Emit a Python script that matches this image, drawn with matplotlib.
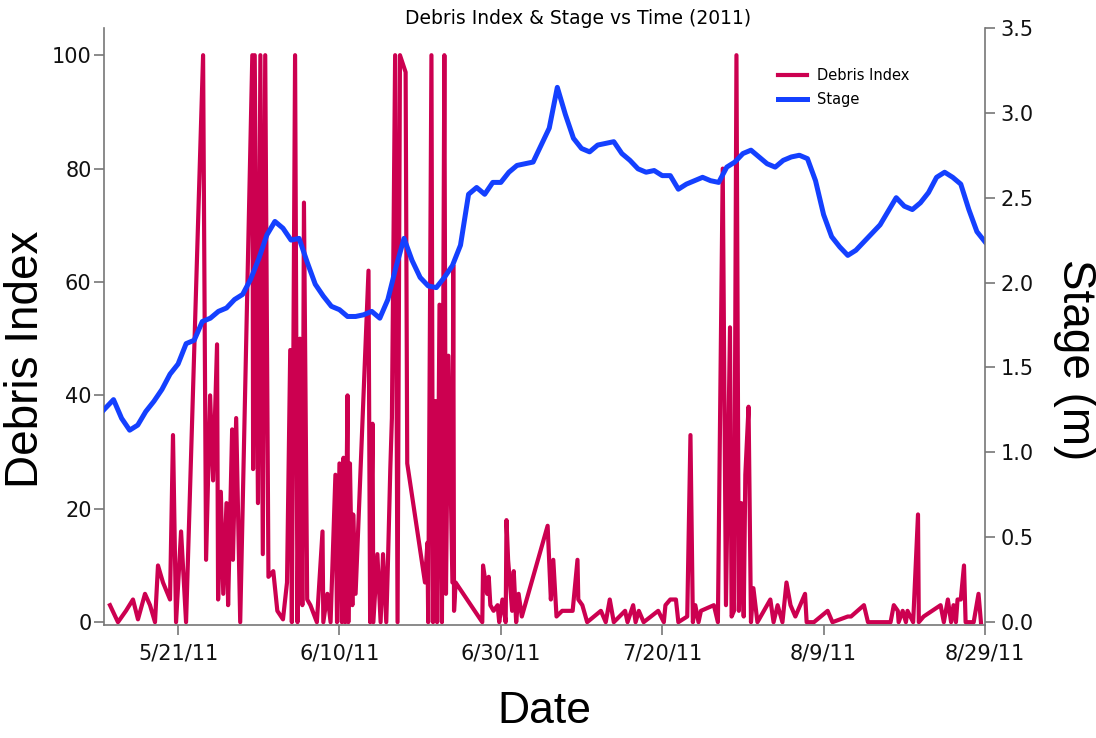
import matplotlib
matplotlib.use("Agg")
import matplotlib.pyplot as plt
import pandas as pd

# days after 5/12/2011
stage_day = [-0.2, 0, 1, 2, 3, 4, 5, 6, 7, 8, 9, 10, 11, 12, 13, 14, 15, 16, 17, 18,
             19, 20, 21, 22, 23, 24, 25, 26, 27, 28, 29, 30, 31, 32, 33, 34, 35, 36, 37, 38,
             39, 40, 41, 42, 43, 44, 45, 46, 47, 48, 49, 50, 51, 52, 53, 54, 55, 56, 57, 58,
             59, 60, 61, 62, 63, 64, 65, 66, 67, 68, 69, 70, 71, 72, 73, 74, 75, 76, 77, 78,
             79, 80, 81, 82, 83, 84, 85, 86, 87, 88, 89, 90, 91, 92, 93, 94, 95, 96, 97, 98,
             99, 100, 101, 102, 103, 104, 105, 106, 107, 108, 109]
stage_m = [1.25, 1.26, 1.31, 1.20, 1.13, 1.16, 1.24, 1.30, 1.37, 1.46, 1.52, 1.64, 1.66, 1.77,
           1.79, 1.83, 1.85, 1.90, 1.93, 2.02, 2.14, 2.28, 2.36, 2.32, 2.25, 2.26, 2.12, 1.99,
           1.92, 1.86, 1.84, 1.80, 1.80, 1.81, 1.83, 1.79, 1.90, 2.09, 2.26, 2.13, 2.03, 1.98,
           1.97, 2.03, 2.10, 2.22, 2.52, 2.56, 2.52, 2.59, 2.59, 2.65, 2.69, 2.70, 2.71, 2.81,
           2.91, 3.15, 2.99, 2.85, 2.79, 2.77, 2.81, 2.82, 2.83, 2.76, 2.72, 2.67, 2.65, 2.66,
           2.63, 2.63, 2.55, 2.58, 2.60, 2.62, 2.60, 2.59, 2.68, 2.71, 2.76, 2.78, 2.74, 2.70,
           2.68, 2.72, 2.74, 2.75, 2.73, 2.60, 2.40, 2.27, 2.21, 2.16, 2.19, 2.24, 2.29, 2.34,
           2.42, 2.50, 2.45, 2.43, 2.47, 2.53, 2.62, 2.65, 2.62, 2.58, 2.43, 2.30, 2.24]

debris_day = [0.56, 1.55, 2.54, 3.41, 4.03, 4.9, 5.52, 6.14, 6.51, 7.13, 8.0, 8.37, 8.75, 9.37,
              9.99, 12.1, 12.47, 12.97, 13.34, 13.83, 13.96, 14.3, 14.6, 15.0, 15.2, 15.7, 15.8,
              16.2, 16.7, 18.2, 18.3, 18.5, 18.9, 19.2, 19.5, 19.8, 20.2, 20.8, 21.3, 22.0, 22.5,
              22.9, 23.1, 23.5, 23.8, 24.1, 24.4, 24.6, 25.0, 25.4, 26.2, 26.9, 27.0, 27.5, 27.9,
              28.5, 28.7, 29.0, 29.3, 29.5, 29.7, 30.0, 30.1, 30.3, 30.6, 30.7, 31.0, 32.6, 32.8,
              33.1, 33.2, 33.7, 34.1, 34.4, 34.8, 35.0, 35.3, 35.5, 35.9, 36.2, 36.5, 37.2, 37.4,
              39.6, 39.9, 40.0, 40.4, 40.6, 40.9, 41.1, 41.4, 41.7, 42.0, 42.2, 42.5, 43.0, 43.1,
              43.2, 43.4, 46.7, 46.8, 47.3, 47.5, 47.7, 48.1, 48.6, 48.8, 49.2, 49.6, 49.7, 49.9,
              50.4, 50.6, 50.9, 51.2, 51.6, 54.8, 55.2, 55.5, 55.9, 56.6, 57.9, 58.5, 58.6, 59.1,
              59.7, 61.4, 62.0, 62.5, 63.0, 64.4, 64.7, 65.4, 65.7, 66.1, 66.7, 68.5, 69.2, 69.4,
              70.0, 70.7, 71.0, 72.1, 72.5, 72.8, 73.1, 73.5, 73.8, 75.4, 75.9, 76.5, 76.9, 77.4,
              77.6, 77.9, 78.2, 78.5, 78.8, 79.1, 79.3, 79.7, 80.0, 80.3, 80.8, 82.4, 82.8, 83.3,
              83.9, 84.4, 84.9, 85.5, 86.7, 86.9, 87.8, 89.5, 90.1, 92.0, 92.4, 94.0, 94.5, 97.3,
              97.7, 98.2, 98.3, 98.8, 99.2, 99.4, 100.1, 100.7, 100.8, 101.4, 103.5, 103.9, 104.4,
              104.8, 105.1, 105.4, 105.6, 106.0, 106.4, 106.6, 107.6, 108.2, 108.5]
debris_idx = [3, 0, 2, 4, 0.5, 5, 3, 0, 10, 7, 4, 33, 0, 16,
              0, 100, 11, 40, 25, 49, 4, 23, 5, 21, 3, 34, 11,
              36, 0, 100, 27, 100, 21, 100, 12, 100, 8, 9, 2, 0.5, 7,
              48, 0, 100, 0, 50, 3, 74, 4, 3, 0, 16, 0, 5, 0,
              26, 0, 28, 0, 29, 0, 40, 0, 28, 3, 19, 5, 62, 0,
              35, 0, 12, 0, 12, 0, 10, 27, 36, 100, 0, 100, 97, 28,
              7, 14, 0, 100, 0, 39, 0, 56, 0, 100, 5, 47, 7, 63,
              2, 7, 0, 10, 5, 8, 3, 2, 3, 0, 4, 0, 18, 11,
              2, 9, 0, 5, 1, 17, 4, 11, 1, 2, 2, 11, 4, 3,
              0, 2, 0, 4, 0, 2, 0, 3, 0, 2, 0, 2, 0, 3,
              4, 4, 0, 1, 33, 0, 3, 0, 2, 3, 0, 80, 3, 52,
              1, 2, 100, 2, 21, 1, 26, 38, 0, 6, 0, 4, 0, 3,
              0, 7, 3, 1, 5, 0, 0, 2, 0, 1, 1, 3, 0, 0,
              3, 2, 0, 2, 0, 2, 0, 19, 0, 1, 3, 0, 4,
              0, 3, 0, 4, 4, 10, 0, 0, 5, 0]

tick_dates = ["2011-05-21", "2011-06-10", "2011-06-30", "2011-07-20", "2011-08-09", "2011-08-29"]
tick_labels = ["5/21/11", "6/10/11", "6/30/11", "7/20/11", "8/9/11", "8/29/11"]

base = pd.Timestamp("2011-05-12")
stage_t = base + pd.to_timedelta(stage_day, unit="D")
debris_t = base + pd.to_timedelta(debris_day, unit="D")

red = "#cc0050"
blue = "#1440ff"
spine_c = "#777777"

fig = plt.figure(figsize=(10.96, 7.38), dpi=100)
ax = fig.add_axes([0.0949, 0.1531, 0.8038, 0.809])
ax2 = ax.twinx()

l1, = ax.plot(debris_t, debris_idx, color=red, lw=3.0, label="Debris Index")
l2, = ax2.plot(stage_t, stage_m, color=blue, lw=3.6, label="Stage")

ax.set_xlim(base - pd.Timedelta(hours=4.3), pd.Timestamp("2011-08-29"))
ax.set_ylim(-0.5, 104.8)
ax2.set_ylim(-0.018, 3.5)

ax.set_xticks(pd.to_datetime(tick_dates))
ax.set_xticklabels(tick_labels)
ax.set_yticks([0, 20, 40, 60, 80, 100])
ax2.set_yticks([0.0, 0.5, 1.0, 1.5, 2.0, 2.5, 3.0, 3.5])
ax2.set_yticklabels(["0.0", "0.5", "1.0", "1.5", "2.0", "2.5", "3.0", "3.5"])

for a in (ax, ax2):
    a.spines["top"].set_visible(False)
    for s in ("left", "right", "bottom"):
        a.spines[s].set_color(spine_c)
        a.spines[s].set_linewidth(1.2)
    a.tick_params(length=7, width=1.2, color=spine_c, labelsize=15, labelcolor="#111111")
ax.spines["right"].set_visible(False)
ax2.spines["left"].set_visible(False)
ax2.spines["bottom"].set_visible(False)
ax.tick_params(axis="y", pad=2)
ax.tick_params(axis="x", pad=6)
ax2.tick_params(axis="y", pad=4)

lab_font = dict(family="Liberation Sans", fontsize=33)
ax.set_ylabel("Debris Index", labelpad=3, **lab_font)
ax.yaxis.label.set_y(0.445)
ax.set_xlabel("Date", labelpad=20, family="Liberation Sans", fontsize=32)
ax2.set_ylabel("Stage (m)", rotation=270, va="bottom", labelpad=14, **lab_font)
ax2.yaxis.label.set_y(0.445)

fig.text(0.527, 1 - 18 / 738, "Debris Index & Stage vs Time (2011)", ha="center", va="center",
         fontsize=13.5)

ax2.legend([l1, l2], ["Debris Index", "Stage"], loc="upper left", bbox_to_anchor=(0.75, 0.955),
           frameon=False, fontsize=10.5, handlelength=2.0, handletextpad=0.7, labelspacing=0.6)

fig.savefig("out.png", dpi=100)
